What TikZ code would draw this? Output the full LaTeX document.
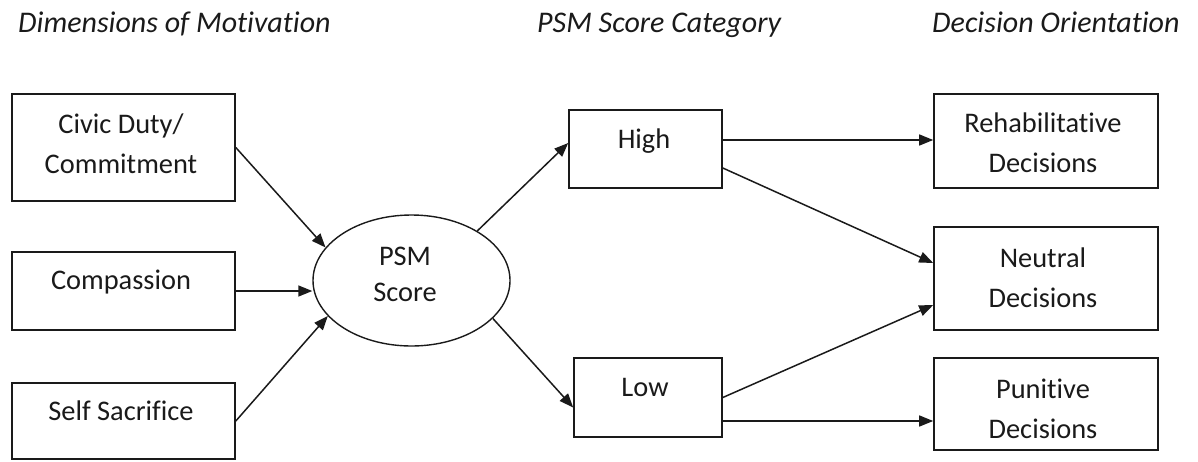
\documentclass[tikz,border=0pt]{standalone}
\usepackage{fontspec}
\setmainfont{Carlito}[Ligatures={NoCommon}]
\usetikzlibrary{arrows.meta,shapes.geometric,calc}
\definecolor{ink}{HTML}{1A1A1A}
\tikzset{
  boxnode/.style={draw=ink, line width=1.6pt, inner sep=0pt, rectangle},
  ovalnode/.style={draw=ink, line width=1.4pt, inner sep=0pt, ellipse, minimum width=197pt, minimum height=131pt},
  txt/.style={anchor=base, inner sep=0pt, text=ink, font=\fontsize{28.4}{34}\selectfont},
  head/.style={anchor=base west, inner sep=0pt, text=ink, font=\fontsize{30}{36}\selectfont\itshape},
  arr/.style={draw=ink, line width=1.5pt, -{Triangle[length=14pt,width=11pt]}}
}
\begin{document}
\begin{tikzpicture}[x=1pt,y=-1pt]
\useasboundingbox (0,0) rectangle (1198,461);
% headers
\node[head] (h1) at (18,32) {Dimensions of Motivation};
\node[head] (h2) at (537,32) {PSM Score Category};
\node[head] (h3) at (932,32) {Decision Orientation};
% left boxes
\node[boxnode, minimum width=223pt, minimum height=107pt] (civic) at (123.5,147.5) {};
\node[boxnode, minimum width=223pt, minimum height=78pt] (comp) at (123.5,291) {};
\node[boxnode, minimum width=223pt, minimum height=76pt] (self) at (123.5,421) {};
\node[txt] (civict1) at (121,133) {Civic Duty/};
\node[txt] (civict2) at (121,173) {Commitment};
\node[txt] (compt) at (121,289) {Compassion};
\node[txt] (selft) at (121,420) {Self Sacrifice};
% ellipse
\node[ovalnode] (psm) at (411.5,280.5) {};
\node[txt] (psmt1) at (405,265) {PSM};
\node[txt] (psmt2) at (405,301) {Score};
% middle boxes
\node[boxnode, minimum width=153pt, minimum height=78pt] (high) at (645.5,149) {};
\node[boxnode, minimum width=148pt, minimum height=79pt] (low) at (648,397.5) {};
\node[txt] (hight) at (644,148) {High};
\node[txt] (lowt) at (645,396) {Low};
% right boxes
\node[boxnode, minimum width=224pt, minimum height=94pt] (rehab) at (1046,141) {};
\node[boxnode, minimum width=224pt, minimum height=103pt] (neutral) at (1046,278.5) {};
\node[boxnode, minimum width=224pt, minimum height=92pt] (punitive) at (1046,404) {};
\node[txt] (rehabt1) at (1043,132) {Rehabilitative};
\node[txt] (rehabt2) at (1043,172) {Decisions};
\node[txt] (neutt1) at (1043,267) {Neutral};
\node[txt] (neutt2) at (1043,307) {Decisions};
\node[txt] (punt1) at (1043,398) {Punitive};
\node[txt] (punt2) at (1043,438) {Decisions};
% connectors
\draw[arr] (civic.east) -- (psm.159);
\draw[arr] (comp.east) -- (comp.east -| psm.west);
\draw[arr] (self.east) -- (psm.203);
\draw[arr] (psm.37) -- ([yshift=6pt]high.west);
\draw[arr] (psm.-25) -- ([yshift=-10pt]low.west);
\draw[arr] ([yshift=9pt]high.east) -- ([yshift=9pt]high.east -| rehab.west);
\draw[arr] ([yshift=-19pt]high.east) -- ([yshift=15.5pt]neutral.west);
\draw[arr] (low.east) -- ([yshift=-26.5pt]neutral.west);
\draw[arr] ([yshift=-23.5pt]low.east) -- ([yshift=-23.5pt]low.east -| punitive.west);
\end{tikzpicture}
\end{document}
